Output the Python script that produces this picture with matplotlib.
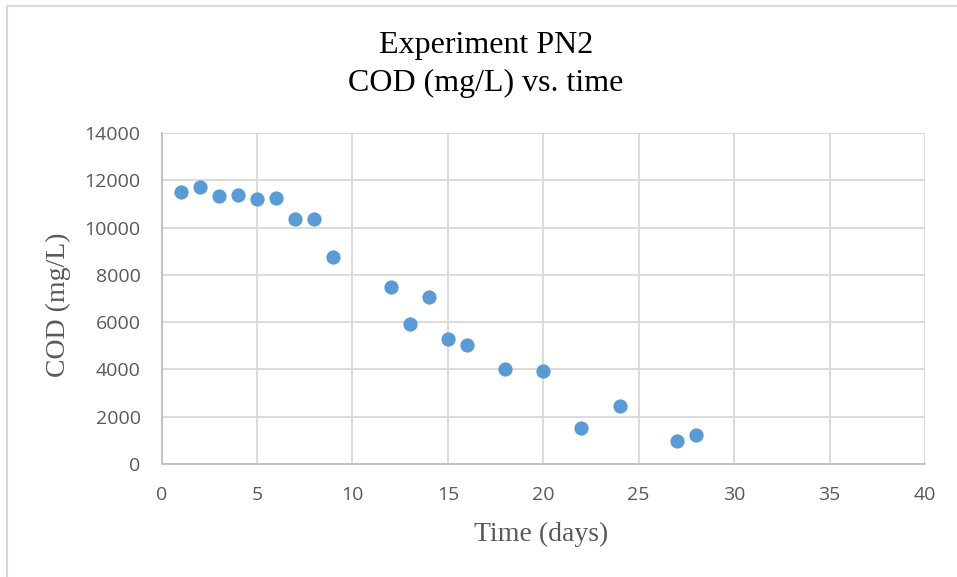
import matplotlib.pyplot as plt
from matplotlib.lines import Line2D

# data
days = [1, 2, 3, 4, 5, 6, 7, 8, 9, 12, 13, 14, 15, 16, 18, 20, 22, 24, 27, 28]
cod = [11500, 11700, 11330, 11380, 11200, 11250, 10360, 10370, 8760,
       7490, 5930, 7070, 5290, 5040, 4020, 3940, 1540, 2460, 980, 1240]
x_ticks = [0, 5, 10, 15, 20, 25, 30, 35, 40]
y_ticks = [0, 2000, 4000, 6000, 8000, 10000, 12000, 14000]

fig = plt.figure(figsize=(9.57, 5.77), dpi=100)
ax = fig.add_axes([161.5 / 957, 1 - 464 / 577, (925 - 161.5) / 957, (464 - 133) / 577])

ax.scatter(days, cod, s=105, color="#5B9BD5", zorder=3, linewidths=0)

ax.set_xlim(0, 40)
ax.set_ylim(0, 14000)
ax.set_xticks(x_ticks)
ax.set_yticks(y_ticks)
ax.grid(True, color="#d9d9d9", linewidth=1.3)
ax.set_axisbelow(True)
ax.tick_params(length=0, labelsize=14, labelcolor="#595959")
ax.tick_params(axis="x", pad=16)
ax.tick_params(axis="y", pad=15)
for lbl in ax.get_xticklabels() + ax.get_yticklabels():
    lbl.set_family("Open Sans")

for side in ["top", "right"]:
    ax.spines[side].set_visible(False)
for side in ["left", "bottom"]:
    ax.spines[side].set_color("#bfbfbf")
    ax.spines[side].set_linewidth(1.3)

serif = "Liberation Serif"
fig.text(486 / 957, 1 - 46 / 577, "Experiment PN2", ha="center", va="center",
         family=serif, fontsize=23, color="black")
fig.text(486 / 957, 1 - 83 / 577, "COD (mg/L) vs. time", ha="center", va="center",
         family=serif, fontsize=23, color="black")
fig.text(541 / 957, 1 - 534 / 577, "Time (days)", ha="center", va="center",
         family=serif, fontsize=20, color="#595959")
fig.text(58 / 957, 1 - 305 / 577, "COD (mg/L)", ha="center", va="center", rotation=90,
         family=serif, fontsize=20, color="#595959")

# chart frame (only top and left edges fall inside the picture)
fig.add_artist(Line2D([7 / 957, 7 / 957], [0, 1 - 6 / 577], transform=fig.transFigure,
                      color="#d9d9d9", linewidth=1.5))
fig.add_artist(Line2D([7 / 957, 1], [1 - 6 / 577, 1 - 6 / 577], transform=fig.transFigure,
                      color="#d9d9d9", linewidth=1.5))

fig.savefig("out.png", dpi=100)
